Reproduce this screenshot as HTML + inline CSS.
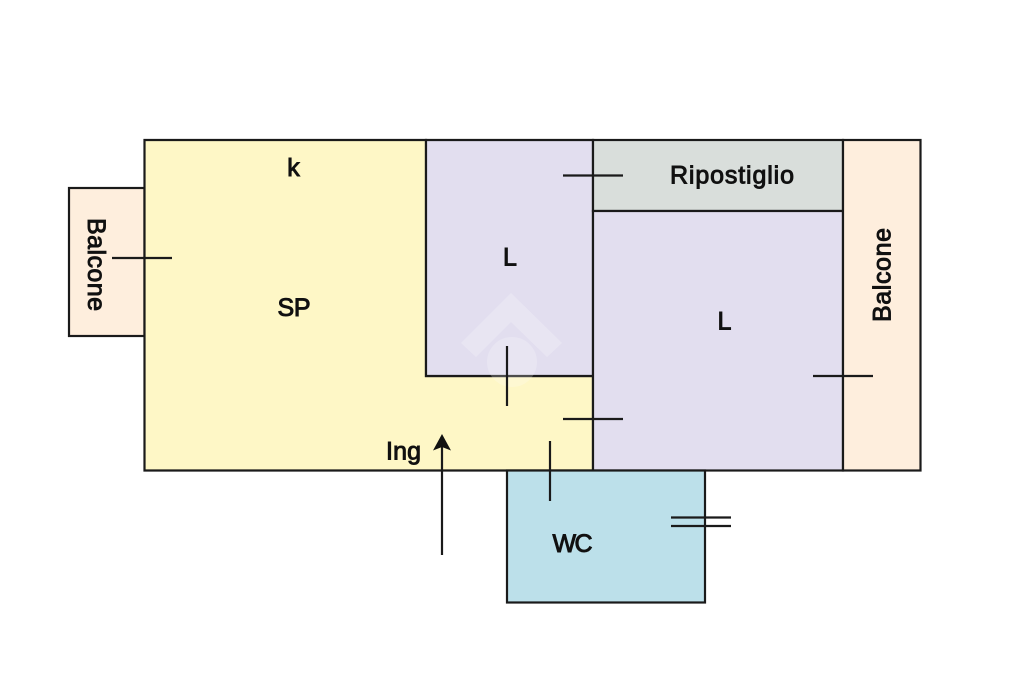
<!DOCTYPE html>
<html>
<head>
<meta charset="utf-8">
<style>
html,body{margin:0;padding:0;background:#fff;width:1024px;height:682px;overflow:hidden}
svg{display:block}
text{font-family:"Liberation Sans",sans-serif;font-size:25px;fill:#111;text-anchor:middle;stroke:#111;stroke-width:.95px}
</style>
</head>
<body>
<svg width="1024" height="682" viewBox="0 0 1024 682">
<g stroke="#1a1a1a" stroke-width="2.200">
<rect x="69" y="188" width="75.500" height="148" fill="#feeedd"/>
<polygon points="144.500,140 426,140 426,376 593,376 593,470.500 144.500,470.500" fill="#fef7c6"/>
<polygon points="426,140 593,140 593,376 426,376" fill="#e2deef"/>
<rect x="593" y="140" width="250" height="71" fill="#d9dedb"/>
<rect x="593" y="211" width="250" height="259.500" fill="#e2deef"/>
<rect x="843" y="140" width="77.500" height="330.500" fill="#feeedd"/>
<rect x="507" y="470.500" width="198" height="132" fill="#bce0ea"/>
</g>
<g fill="#fff" opacity=".22">
<polygon points="511,293 562,343 547,357 511,322 476,357 461,343"/>
<circle cx="512" cy="362" r="25"/>
</g>
<g stroke="#1a1a1a" stroke-width="2.200" fill="none">
<path d="M112 258H172"/>
<path d="M563 175.500H623"/>
<path d="M507 346V406"/>
<path d="M563 419H623"/>
<path d="M550 441V501"/>
<path d="M813 376H873"/>
<path d="M671 517.500H731"/>
<path d="M671 526H731"/>
<path d="M442 555V445"/>
</g>
<path d="M442 434L451 450.500L442 447L433 450.500Z" fill="#111"/>
<text x="293.500" y="176">k</text>
<text x="294" y="316" textLength="33">SP</text>
<text x="510" y="265.500">L</text>
<text x="724.500" y="329.500">L</text>
<text x="732" y="183.500" textLength="124">Ripostiglio</text>
<text x="403.500" y="459.500" textLength="35">Ing</text>
<text x="572.500" y="552" textLength="40">WC</text>
<text transform="translate(88,264.500) rotate(90)" textLength="93">Balcone</text>
<text transform="translate(890.500,275) rotate(-90)" textLength="94">Balcone</text>
</svg>
</body>
</html>
